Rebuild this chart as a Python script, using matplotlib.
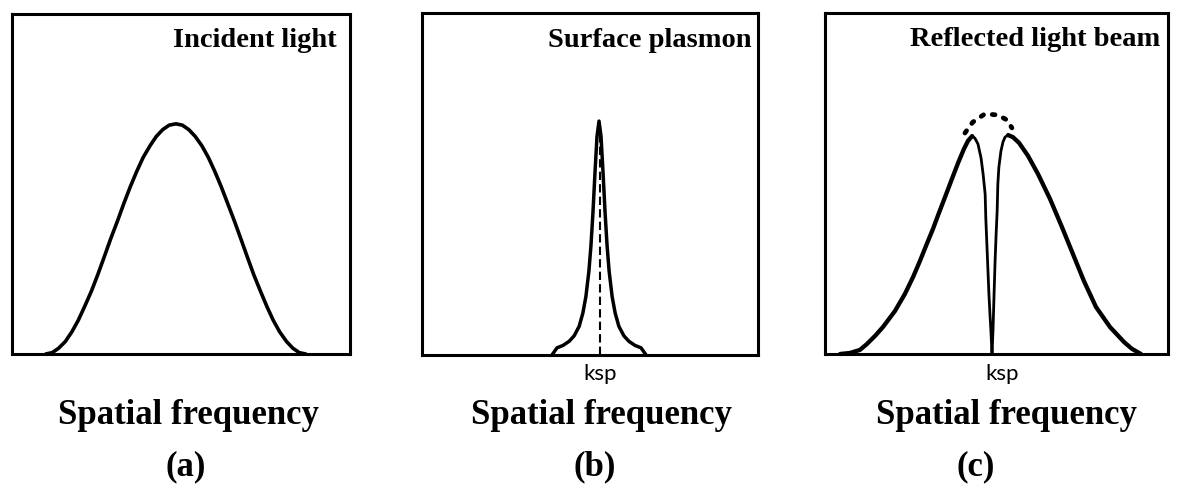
import matplotlib.pyplot as plt

# --- spectra, arbitrary units (0-100 on both axes of every panel) ---

# (a) incident beam angular spectrum
incident_x = [10.0, 11.9, 13.8, 15.8, 17.7, 19.6, 21.5, 23.5, 25.4, 27.3,
              29.2, 31.2, 33.1, 35.0, 36.9, 38.8, 40.8, 42.7, 44.6, 46.5,
              48.5, 50.4, 52.3, 54.2, 56.2, 58.1, 60.0, 61.9, 63.8, 65.8,
              67.7, 69.6, 71.5, 73.5, 75.4, 77.3, 79.2, 81.2, 83.1, 85.0, 86.9]
incident_y = [0.0, 0.4, 1.7, 3.7, 6.5, 9.9, 14.0, 18.5, 23.4, 28.6,
              33.9, 39.1, 44.3, 49.2, 53.7, 57.8, 61.2, 64.0, 66.0, 67.3,
              67.7, 67.3, 66.0, 64.0, 61.2, 57.8, 53.7, 49.2, 44.3, 39.1,
              33.9, 28.6, 23.4, 18.5, 14.0, 9.9, 6.5, 3.7, 1.7, 0.4, 0.0]

# (b) surface plasmon resonance
plasmon_x = [38.7, 40.2, 42.0, 43.8, 45.3, 46.8, 47.9, 48.8, 49.7, 50.3,
             50.9, 51.5, 52.1, 52.7, 53.3, 53.9, 54.5, 55.1, 55.7, 56.6,
             57.5, 58.6, 60.1, 61.6, 63.4, 65.2, 66.7]
plasmon_y = [0.0, 2.1, 2.8, 4.0, 5.6, 8.4, 12.3, 17.1, 24.6, 32.0,
             41.7, 53.3, 63.9, 68.4, 63.9, 53.3, 41.7, 32.0, 24.6, 17.1,
             12.3, 8.4, 5.6, 4.0, 2.8, 2.1, 0.0]
ksp_b = 53.0
ksp_b_top = 66.0

# (c) reflected beam: rising side, resonance dip, falling side
rise_x = [4.4, 7.3, 10.2, 12.2, 14.6, 16.9, 20.4, 23.3, 25.7, 27.7,
          29.7, 31.5, 33.2, 35.0, 37.0, 38.8, 40.5, 41.7, 42.9]
rise_y = [0.0, 0.3, 1.2, 2.9, 5.3, 7.9, 12.6, 17.6, 22.6, 27.3,
          32.3, 36.7, 41.3, 46.0, 51.3, 56.0, 60.1, 62.5, 63.9]
dip_x = [42.9, 43.7, 44.6, 45.5, 46.1, 46.7, 46.9, 47.2, 47.5, 47.8,
         48.1, 48.4, 48.7, 49.0, 49.3, 49.6, 49.9, 50.2, 50.4, 50.7,
         51.3, 51.9, 52.5, 53.4]
dip_y = [63.9, 63.3, 61.6, 57.5, 52.8, 46.9, 39.6, 32.3, 24.9, 17.6,
         11.7, 6.5, 0.0, 7.3, 17.6, 27.3, 35.2, 41.9, 49.9, 54.8,
         59.5, 62.2, 63.6, 64.2]
fall_x = [53.4, 54.8, 56.6, 59.2, 62.1, 65.6, 69.1, 72.3, 75.5, 79.0,
          83.1, 87.2, 89.5, 91.6, 92.1]
fall_y = [64.2, 63.6, 61.9, 58.1, 52.8, 45.5, 37.2, 29.3, 21.4, 13.8,
          7.9, 3.5, 1.5, 0.3, 0.0]
envelope_x = [40.8, 43.1, 46.6, 50.4, 53.1, 54.5]
envelope_y = [64.8, 68.0, 70.4, 70.1, 68.6, 66.3]
ksp_c = 48.7

titles = ["Incident light", "Surface plasmon", "Reflected light beam"]
tags = ["(a)", "(b)", "(c)"]
xlabel = "Spatial frequency"

SERIF = "Liberation Serif"
SANS = "Lato"

fig = plt.figure(figsize=(11.78, 4.96), dpi=100)

boxes = [
    [0.0102, 0.2863, 0.2869, 0.6855],
    [0.3582, 0.2843, 0.2852, 0.6895],
    [0.7003, 0.2863, 0.2912, 0.6875],
]
title_x = [0.9615, 0.982, 0.977]
label_x = [0.1596, 0.511, 0.854]
tag_x = [0.158, 0.505, 0.8285]

axes = []
for i, box in enumerate(boxes):
    ax = fig.add_axes(box)
    ax.set_xlim(0, 100)
    ax.set_ylim(0, 100)
    ax.set_xticks([])
    ax.set_yticks([])
    for sp in ax.spines.values():
        sp.set_linewidth(2.2)
    ax.text(title_x[i], 0.902, titles[i], transform=ax.transAxes,
            ha="right", va="baseline", fontsize=20.5, fontweight="bold",
            family=SERIF)
    fig.text(label_x[i], 0.145, xlabel, ha="center", va="baseline",
             fontsize=25, fontweight="bold", family=SERIF)
    fig.text(tag_x[i], 0.042, tags[i], ha="center", va="baseline",
             fontsize=25, fontweight="bold", family=SERIF)
    axes.append(ax)

line_kw = dict(color="black", solid_capstyle="round", solid_joinstyle="round",
               clip_on=False)

# (a)
axes[0].plot(incident_x, incident_y, lw=2.6, **line_kw)

# (b)
axes[1].plot(plasmon_x, plasmon_y, lw=2.5, **line_kw)
axes[1].plot([ksp_b, ksp_b], [0, ksp_b_top], color="black", lw=1.5,
             linestyle=(0, (4, 2)))
axes[1].text(ksp_b, -0.025, "ksp", transform=axes[1].get_xaxis_transform(),
             ha="center", va="top", fontsize=16, family=SANS)

# (c)
axes[2].plot(rise_x, rise_y, lw=3.1, **line_kw)
axes[2].plot(dip_x, dip_y, lw=2.0, **line_kw)
axes[2].plot(fall_x, fall_y, lw=3.1, **line_kw)
axes[2].plot(envelope_x, envelope_y, color="black", lw=3.4,
             linestyle=(0, (0.6, 1.9)), dash_capstyle="round")
axes[2].text(ksp_c - 1.8, -0.03, "ksp", transform=axes[2].get_xaxis_transform(),
             ha="left", va="top", fontsize=16, family=SANS)

fig.savefig("out.png", dpi=100)
